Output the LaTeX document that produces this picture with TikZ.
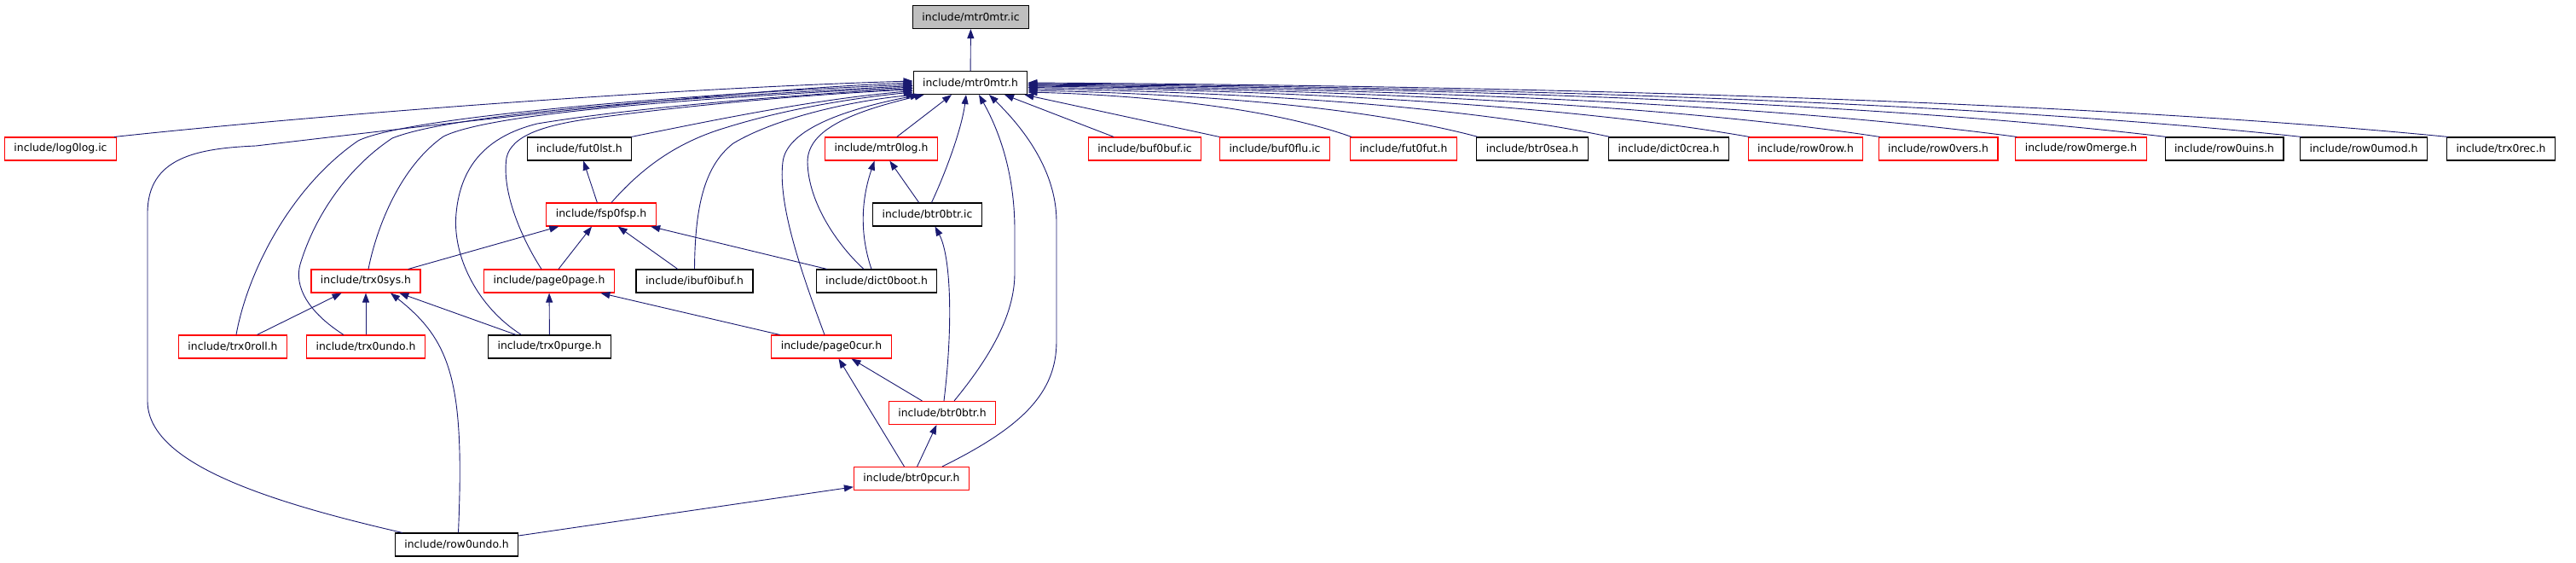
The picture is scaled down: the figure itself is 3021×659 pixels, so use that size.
\documentclass[tikz,border=0pt]{standalone}
\usepackage{fontspec}
\setmainfont{DejaVu Sans}
\usepackage{tikz}
\usetikzlibrary{arrows.meta}
\definecolor{edgeblue}{HTML}{191970}
\definecolor{rootgrey}{HTML}{BFBFBF}

\begin{document}
\begin{tikzpicture}[x=1pt, y=-1pt, >={Triangle[length=11pt,width=8pt]},
    file/.style={draw=black, fill=white, line width=1.1pt, inner xsep=11pt, inner ysep=0pt,
      minimum height=27pt, font=\fontsize{12.4pt}{14pt}\selectfont},
    trunc/.style={file, draw=red},
    root/.style={file, fill=rootgrey},
    dep/.style={->, draw=edgeblue, fill=none, line width=0.9pt, >={Triangle[length=11pt,width=8pt,fill=edgeblue]}}]
        \useasboundingbox (0,0) rectangle (3021,659);
        \node[root] (mtrIc) at (1138.5,20) {include/mtr0mtr.ic};
        \node[file] (mtrH) at (1138,97) {include/mtr0mtr.h};
        \node[trunc] (logIc) at (71,174.5) {include/log0log.ic};
        \node[file] (futLst) at (679.5,174.5) {include/fut0lst.h};
        \node[trunc] (mtrLog) at (1033.5,174.5) {include/mtr0log.h};
        \node[trunc] (bufBuf) at (1342.5,174.5) {include/buf0buf.ic};
        \node[trunc] (bufFlu) at (1495,174.5) {include/buf0flu.ic};
        \node[trunc] (futFut) at (1646,174.5) {include/fut0fut.h};
        \node[file] (btrSea) at (1797,174.5) {include/btr0sea.h};
        \node[file] (dictCrea) at (1957,174.5) {include/dict0crea.h};
        \node[trunc] (rowRow) at (2117.5,174.5) {include/row0row.h};
        \node[trunc] (rowVers) at (2273,174.5) {include/row0vers.h};
        \node[trunc] (rowMerge) at (2440.5,174.5) {include/row0merge.h};
        \node[file] (rowUins) at (2608.5,174.5) {include/row0uins.h};
        \node[file] (rowUmod) at (2772,174.5) {include/row0umod.h};
        \node[file] (trxRec) at (2933,174.5) {include/trx0rec.h};
        \node[trunc] (fspH) at (705,251.5) {include/fsp0fsp.h};
        \node[file] (btrIc) at (1087.5,251.5) {include/btr0btr.ic};
        \node[trunc] (trxSys) at (429,329.5) {include/trx0sys.h};
        \node[trunc] (pagePage) at (644,329.5) {include/page0page.h};
        \node[file] (ibufH) at (814.5,329.5) {include/ibuf0ibuf.h};
        \node[file] (dictBoot) at (1028,329.5) {include/dict0boot.h};
        \node[trunc] (trxRoll) at (273,406.5) {include/trx0roll.h};
        \node[trunc] (trxUndo) at (429,406.5) {include/trx0undo.h};
        \node[file] (trxPurge) at (644.5,406.5) {include/trx0purge.h};
        \node[trunc] (pageCur) at (975,406.5) {include/page0cur.h};
        \node[trunc] (btrH) at (1105,484) {include/btr0btr.h};
        \node[trunc] (btrPcur) at (1069,561) {include/btr0pcur.h};
        \node[file] (rowUndo) at (535.5,638.5) {include/row0undo.h};

        \draw[dep] (mtrH) -- (mtrIc);
        % files to the right of mtr0mtr.h
        \draw[dep] (bufBuf) -- ([xshift=40pt]mtrH.south);
        \draw[dep] (bufFlu) -- ([xshift=-4pt]mtrH.south east);
        \draw[dep] ([xshift=2pt]futFut.north west) .. controls (1480,123) and (1320,111) .. ([yshift=-11pt]mtrH.east);
        \draw[dep] ([xshift=2pt]btrSea.north west) .. controls (1586,121) and (1364,109) .. ([yshift=-9pt]mtrH.east);
        \draw[dep] ([xshift=2pt]dictCrea.north west) .. controls (1698,120) and (1411,107) .. ([yshift=-7pt]mtrH.east);
        \draw[dep] ([xshift=2pt]rowRow.north west) .. controls (1814,119) and (1460,105) .. ([yshift=-5.5pt]mtrH.east);
        \draw[dep] ([xshift=2pt]rowVers.north west) .. controls (1925,118) and (1506,104) .. ([yshift=-4pt]mtrH.east);
        \draw[dep] ([xshift=2pt]rowMerge.north west) .. controls (2041,117) and (1554,103) .. ([yshift=-3pt]mtrH.east);
        \draw[dep] ([xshift=2pt]rowUins.north west) .. controls (2167,116) and (1606,102) .. ([yshift=-2pt]mtrH.east);
        \draw[dep] ([xshift=2pt]rowUmod.north west) .. controls (2282,116) and (1654,101) .. ([yshift=-1pt]mtrH.east);
        \draw[dep] ([xshift=2pt]trxRec.north west) .. controls (2405,115) and (1705,100) .. (mtrH.east);
        % files to the left of and below mtr0mtr.h
        \draw[dep] ([xshift=-3pt]logIc.north east) .. controls (400,132) and (800,103) .. ([yshift=2pt]mtrH.west);
        \draw[dep] ([xshift=9pt]rowUndo.north west) .. controls (300,585) and (173,540) .. (173,470) -- (173,250)
            .. controls (173,185) and (230,174) .. (300,171) .. controls (480,150) and (850,105) .. (mtrH.west);
        \draw[dep] ([xshift=4pt]trxRoll.north) .. controls (290,320) and (340,220) .. (420,165)
            .. controls (480,135) and (850,108) .. ([yshift=-2pt]mtrH.west);
        \draw[dep] ([xshift=-26pt]trxUndo.north) .. controls (360,365) and (345,335) .. (352,310)
            .. controls (370,250) and (410,195) .. (460,162) .. controls (540,130) and (850,112) .. ([yshift=-3.5pt]mtrH.west);
        \draw[dep] ([xshift=3pt]trxSys.north) .. controls (442,265) and (470,195) .. (520,160)
            .. controls (580,130) and (860,113) .. ([yshift=-5pt]mtrH.west);
        \draw[dep] ([xshift=-33pt]trxPurge.north) .. controls (560,360) and (530,300) .. (535,250)
            .. controls (540,195) and (570,160) .. (630,145) .. controls (750,125) and (950,110) .. ([yshift=-6.5pt]mtrH.west);
        \draw[dep] ([xshift=-9pt]pagePage.north) .. controls (612,280) and (588,225) .. (594,185)
            .. controls (600,158) and (640,146) .. (700,138) .. controls (820,122) and (960,110) .. ([yshift=-8pt]mtrH.west);
        \draw[dep] ([xshift=-1pt]futLst.north east) .. controls (850,138) and (960,116) .. ([yshift=-9.5pt]mtrH.west);
        \draw[dep] ([xshift=12pt]fspH.north) .. controls (750,200) and (790,168) .. (850,150)
            .. controls (920,128) and (1000,115) .. ([yshift=-11pt]mtrH.west);
        \draw[dep] (ibufH.north) .. controls (815,245) and (825,195) .. (860,168)
            .. controls (910,138) and (1000,118) .. ([xshift=3pt]mtrH.south west);
        \draw[dep] ([xshift=-8pt]pageCur.north) .. controls (940,320) and (912,240) .. (918,190)
            .. controls (922,155) and (980,130) .. ([xshift=8pt]mtrH.south west);
        \draw[dep] ([xshift=-15pt]dictBoot.north) .. controls (985,290) and (948,240) .. (947,190)
            .. controls (947,155) and (990,133) .. ([xshift=13pt]mtrH.south west);
        \draw[dep] (mtrLog) -- ([xshift=-22pt]mtrH.south);
        \draw[dep] ([xshift=5pt]btrIc.north) .. controls (1110,200) and (1128,150) .. ([xshift=-5pt]mtrH.south);
        \draw[dep] ([xshift=14pt]btrH.north) .. controls (1160,420) and (1190,370) .. (1190,320) -- (1190,270)
            .. controls (1190,200) and (1170,150) .. ([xshift=10pt]mtrH.south);
        \draw[dep] ([xshift=36pt]btrPcur.north) .. controls (1200,500) and (1239,460) .. (1239,400) -- (1239,260)
            .. controls (1239,200) and (1200,150) .. ([xshift=22pt]mtrH.south);
        % the lower levels
        \draw[dep] (fspH) -- (futLst);
        \draw[dep] (btrIc) -- (mtrLog);
        \draw[dep] ([xshift=-6pt]dictBoot.north) .. controls (1010,280) and (1008,240) .. ([xshift=-8pt]mtrLog.south);
        \draw[dep] (trxSys) -- (fspH);
        \draw[dep] (pagePage) -- (fspH);
        \draw[dep] (ibufH) -- (fspH);
        \draw[dep] (dictBoot) -- (fspH);
        \draw[dep] (trxRoll) -- (trxSys);
        \draw[dep] (trxUndo) -- (trxSys);
        \draw[dep] (trxPurge) -- (trxSys);
        \draw[dep] (trxPurge) -- (pagePage);
        \draw[dep] (pageCur) -- (pagePage);
        \draw[dep] (btrH) -- (pageCur);
        \draw[dep] ([xshift=2pt]btrH.north) .. controls (1118,380) and (1115,300) .. ([xshift=9pt]btrIc.south);
        \draw[dep] (btrPcur) -- (pageCur);
        \draw[dep] (btrPcur) -- (btrH);
        \draw[dep] (rowUndo) -- (btrPcur);
        \draw[dep] ([xshift=2pt]rowUndo.north) .. controls (545,450) and (530,400) .. ([xshift=29pt]trxSys.south);
    \end{tikzpicture}
\end{document}
